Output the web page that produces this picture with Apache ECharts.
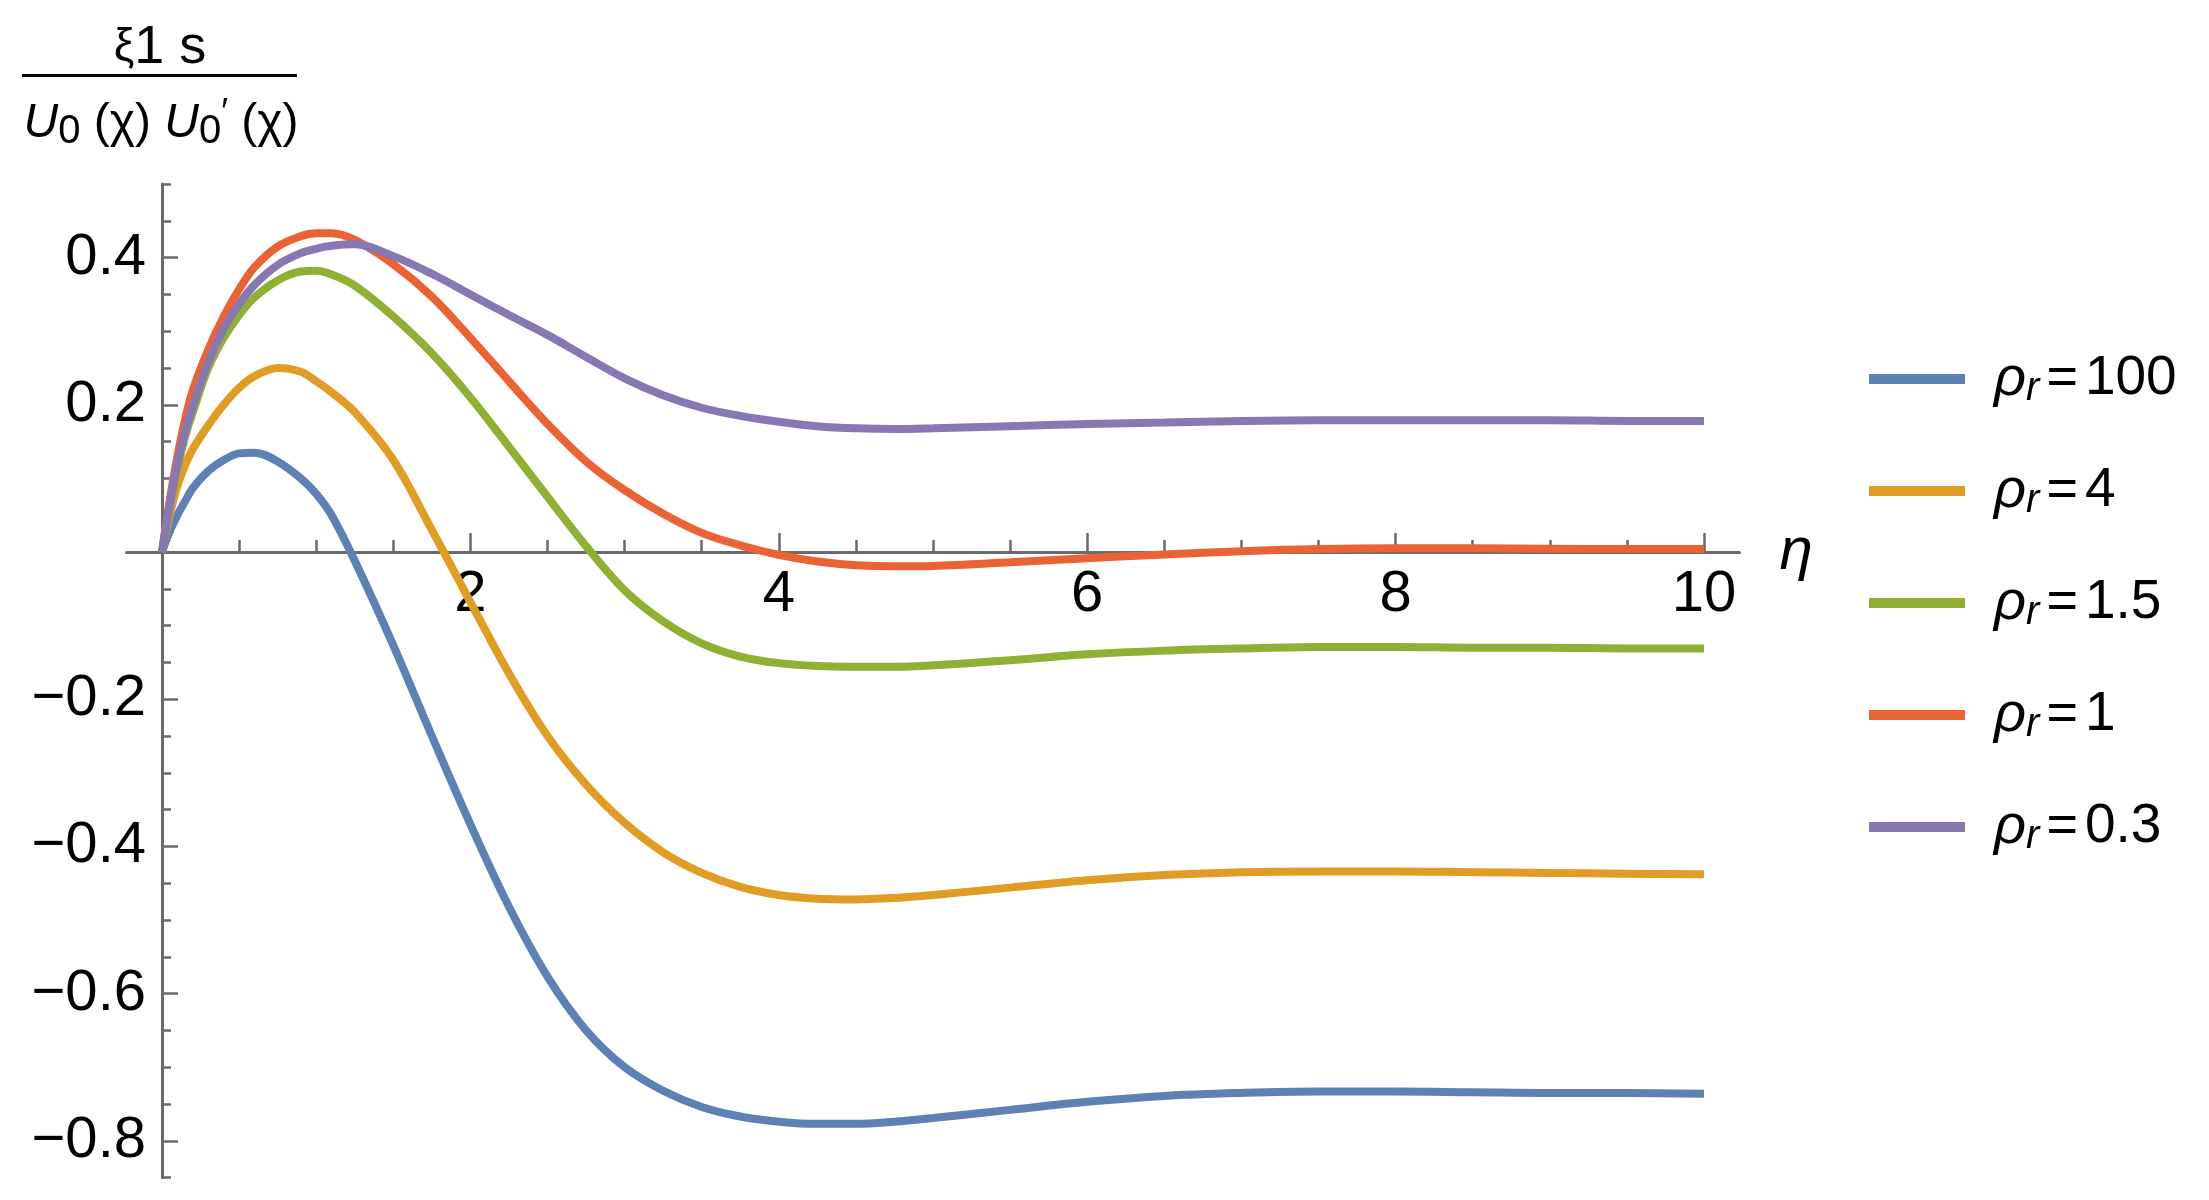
<!DOCTYPE html>
<html>
<head>
<meta charset="utf-8">
<script src="https://cdn.jsdelivr.net/npm/echarts@6/dist/echarts.min.js"></script>
<style>
html,body{margin:0;padding:0;background:#fff;}
#main{width:2209px;height:1200px;}
</style>
</head>
<body>
<div id="main"></div>
<script>
// ---- data ----
const eta = [0, 0.05, 0.1, 0.15, 0.2, 0.3, 0.4, 0.5, 0.6, 0.75, 0.9, 1.0, 1.1, 1.25, 1.5, 1.75, 2.0, 2.25, 2.5, 2.75, 3.0, 3.25, 3.5, 3.75, 4.0, 4.25, 4.5, 4.75, 5.0, 5.5, 6.0, 6.5, 7.0, 7.5, 8.0, 8.5, 9.0, 9.5, 10];
const seriesNames = ['ρr=100', 'ρr=4', 'ρr=1.5', 'ρr=1', 'ρr=0.3'];
const rho100 = [0, 0.028, 0.05, 0.069, 0.087, 0.11, 0.125, 0.134, 0.135, 0.123, 0.1, 0.079, 0.05, -0.012, -0.127, -0.25, -0.37, -0.482, -0.577, -0.65, -0.7, -0.732, -0.754, -0.767, -0.774, -0.777, -0.777, -0.774, -0.769, -0.758, -0.747, -0.739, -0.735, -0.733, -0.733, -0.734, -0.735, -0.735, -0.736];
const rho4 = [0, 0.05, 0.09, 0.118, 0.14, 0.172, 0.2, 0.223, 0.239, 0.25, 0.245, 0.232, 0.217, 0.19, 0.125, 0.03, -0.068, -0.165, -0.25, -0.316, -0.368, -0.408, -0.436, -0.455, -0.466, -0.471, -0.472, -0.47, -0.466, -0.456, -0.446, -0.439, -0.435, -0.434, -0.434, -0.435, -0.436, -0.437, -0.438];
const rho1_5 = [0, 0.06, 0.113, 0.157, 0.19, 0.25, 0.291, 0.322, 0.346, 0.369, 0.381, 0.382, 0.377, 0.362, 0.32, 0.27, 0.21, 0.143, 0.075, 0.008, -0.052, -0.094, -0.124, -0.142, -0.151, -0.155, -0.156, -0.156, -0.154, -0.147, -0.139, -0.134, -0.131, -0.129, -0.129, -0.13, -0.13, -0.131, -0.131];
const rho1 = [0, 0.07, 0.13, 0.18, 0.22, 0.275, 0.32, 0.357, 0.387, 0.415, 0.429, 0.433, 0.433, 0.424, 0.391, 0.347, 0.291, 0.232, 0.174, 0.123, 0.084, 0.052, 0.026, 0.009, -0.004, -0.013, -0.018, -0.0195, -0.019, -0.014, -0.0085, -0.0035, 0.001, 0.004, 0.005, 0.005, 0.0045, 0.004, 0.004];
const rho0_3 = [0, 0.065, 0.12, 0.163, 0.198, 0.258, 0.303, 0.337, 0.363, 0.39, 0.406, 0.412, 0.416, 0.418, 0.402, 0.378, 0.35, 0.322, 0.295, 0.265, 0.236, 0.213, 0.196, 0.185, 0.177, 0.171, 0.168, 0.167, 0.168, 0.171, 0.174, 0.176, 0.178, 0.179, 0.179, 0.179, 0.179, 0.178, 0.178];
const xTickLabels = [2, 4, 6, 8, 10];
const yTickLabels = [-0.8, -0.6, -0.4, -0.2, 0.2, 0.4];

// ---- styling / layout ----
const F = "'Liberation Sans', Arial, sans-serif";
const AX = '#6a6a6a';
const colors = ['#5E81B5', '#E19C24', '#8FB032', '#EB6235', '#8778B3'];
const X0 = 162, PXU = 154.2, Y0 = 552, PYU = 736;
function gridFor(xmin, xmax, ymin, ymax) {
  return { left: X0 + xmin * PXU, width: (xmax - xmin) * PXU, top: Y0 - ymax * PYU, height: (ymax - ymin) * PYU, containLabel: false, outerBoundsMode: 'none' };
}
function fmt(v) {
  const r = Math.round(v * 10) / 10;
  if (r === 0) return '';
  return r < 0 ? '\u2212' + Math.abs(r) : String(r);
}
const hidden = { show: false };
function hiddenAxis(gi, min, max) {
  return { type: 'value', gridIndex: gi, min: min, max: max, show: false, axisLine: { onZero: false } };
}
const allY = [rho100, rho4, rho1_5, rho1, rho0_3];

const chart = echarts.init(document.getElementById('main'), null, { renderer: 'canvas' });
chart.setOption({
  animation: false,
  backgroundColor: '#fff',
  grid: [
    gridFor(-0.23, 10.23, -0.85, 0.5), // 0: axis lines
    gridFor(0, 10, -0.85, 0.5),        // 1: data + y minor ticks
    gridFor(0, 10, -0.8, 0.4),         // 2: y major ticks + labels
    gridFor(0, 10, 0, 0.5),            // 3: x minor ticks
    gridFor(0, 10, 0, 0.5)             // 4: x major ticks + labels
  ],
  xAxis: [
    { type: 'value', gridIndex: 0, min: -0.23, max: 10.23,
      axisLine: { show: true, onZero: true, lineStyle: { color: AX, width: 3 } },
      axisTick: hidden, axisLabel: hidden, splitLine: hidden,
      name: 'η', nameLocation: 'end', nameGap: 40,
      nameTextStyle: { fontSize: 60, fontStyle: 'italic', fontFamily: F, color: '#000', align: 'left', verticalAlign: 'middle' } },
    hiddenAxis(1, 0, 10),
    hiddenAxis(2, 0, 10),
    { type: 'value', gridIndex: 3, position: 'bottom', min: 0, max: 10, interval: 0.5,
      axisLine: { show: false, onZero: false },
      axisTick: { show: true, inside: true, length: 12, lineStyle: { color: AX, width: 2.5 } },
      axisLabel: hidden, splitLine: hidden },
    { type: 'value', gridIndex: 4, position: 'bottom', min: 0, max: 10, interval: 2,
      axisLine: { show: false, onZero: false },
      axisTick: { show: true, inside: true, length: 19, lineStyle: { color: AX, width: 2.5 } },
      axisLabel: { show: true, fontSize: 58, fontFamily: F, color: '#000', margin: 14, showMinLabel: true, showMaxLabel: true,
        formatter: v => (xTickLabels.indexOf(Math.round(v)) >= 0 ? String(Math.round(v)) : '') },
      splitLine: hidden }
  ],
  yAxis: [
    { type: 'value', gridIndex: 0, min: -0.85, max: 0.5,
      axisLine: { show: true, onZero: true, lineStyle: { color: AX, width: 3 } },
      axisTick: hidden, axisLabel: hidden, splitLine: hidden },
    { type: 'value', gridIndex: 1, position: 'left', min: -0.85, max: 0.5, interval: 0.05,
      axisLine: { show: false, onZero: false },
      axisTick: { show: true, inside: true, length: 9, lineStyle: { color: AX, width: 2.5 } },
      axisLabel: hidden, splitLine: hidden },
    { type: 'value', gridIndex: 2, position: 'left', min: -0.8, max: 0.4, interval: 0.2,
      axisLine: { show: false, onZero: false },
      axisTick: { show: true, inside: true, length: 16, lineStyle: { color: AX, width: 2.5 } },
      axisLabel: { show: true, fontSize: 58, fontFamily: F, color: '#000', margin: 16, showMinLabel: true, showMaxLabel: true,
        formatter: v => (yTickLabels.indexOf(Math.round(v * 10) / 10) >= 0 ? fmt(v) : '') },
      splitLine: hidden },
    hiddenAxis(3, 0, 0.5),
    hiddenAxis(4, 0, 0.5)
  ],
  legend: {
    orient: 'vertical', left: 1864, top: 346, itemGap: 54,
    icon: 'rect', itemWidth: 96, itemHeight: 10,
    data: seriesNames,
    formatter: name => '{p|ρ}{r|r}{e|=}{n|' + name.split('=')[1] + '}',
    textStyle: {
      color: '#000', fontFamily: F, fontSize: 54,
      rich: {
        p: { fontSize: 56, fontStyle: 'italic', fontFamily: F, color: '#000', lineHeight: 60, padding: [0, 0, 0, 24] },
        r: { fontSize: 40, fontStyle: 'italic', fontFamily: F, color: '#000', lineHeight: 30, verticalAlign: 'bottom' },
        e: { fontSize: 54, fontFamily: F, color: '#000', lineHeight: 60, padding: [0, 7, 0, 7] },
        n: { fontSize: 55, fontFamily: F, color: '#000', lineHeight: 60 }
      }
    }
  },
  graphic: [
    { type: 'text', x: 160, y: 48, silent: true,
      style: { text: '{x|ξ}{n|1 s}', align: 'center', verticalAlign: 'middle', fill: '#000',
        rich: { x: { fontSize: 46, fontFamily: F, fill: '#000', lineHeight: 56 },
                n: { fontSize: 54, fontFamily: F, fill: '#000', lineHeight: 56 } } } },
    { type: 'line', silent: true, shape: { x1: 22, y1: 75.5, x2: 297, y2: 75.5 }, style: { stroke: '#000', lineWidth: 3 } },
    { type: 'text', x: 161, y: 124, silent: true,
      style: { text: '{u|U}{s|0}{n| (χ) }{u|U}{s|0}{p|′}{n| (χ)}', align: 'center', verticalAlign: 'middle', fill: '#000',
        rich: { u: { fontSize: 48, fontStyle: 'italic', fontFamily: F, fill: '#000', lineHeight: 56 },
                s: { fontSize: 40, fontFamily: F, fill: '#000', lineHeight: 30, verticalAlign: 'bottom' },
                p: { fontSize: 36, fontFamily: F, fill: '#000', lineHeight: 30, verticalAlign: 'top' },
                n: { fontSize: 48, fontFamily: F, fill: '#000', lineHeight: 56 } } } }
  ],
  series: seriesNames.map((nm, k) => ({
    name: nm, type: 'line', xAxisIndex: 1, yAxisIndex: 1,
    data: eta.map((x, i) => [x, allY[k][i]]),
    smooth: 0.35, showSymbol: false, symbol: 'none',
    lineStyle: { color: colors[k], width: 8 }, itemStyle: { color: colors[k] },
    emphasis: { disabled: true }
  }))
});
</script>
</body>
</html>
